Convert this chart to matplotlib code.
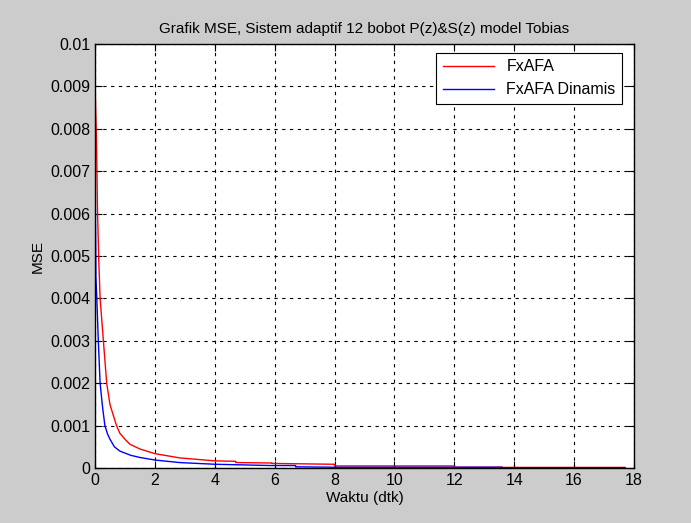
import numpy as np
import matplotlib.pyplot as plt
from matplotlib.ticker import FixedLocator

plt.rcParams['font.family'] = ['Liberation Sans', 'DejaVu Sans']

# values
t_fxafa = [0, 0.02, 0.05, 0.08, 0.12, 0.17, 0.28, 0.39, 0.5, 0.62, 0.72, 0.83, 1.0,
           1.17, 1.5, 2.0, 2.83, 4.0, 4.7, 4.7, 5.9, 5.9, 8.0, 8.0, 12.0, 12.0,
           13.6, 13.6, 17.7]
mse_fxafa = [0.0091, 0.0085, 0.0077, 0.0062, 0.0050, 0.0040, 0.0030, 0.0020, 0.0015,
             0.00122, 0.0010, 0.00082, 0.00068, 0.00056, 0.00045, 0.00034, 0.00024,
             0.00017, 0.00016, 0.00013, 0.00012, 0.00011, 0.00009, 0.00005, 0.00005,
             0.00002, 0.00002, 0.000015, 0.000015]

t_dinamis = [0, 0.005, 0.01, 0.03, 0.06, 0.11, 0.17, 0.25, 0.33, 0.42, 0.5, 0.65,
             0.83, 1.2, 1.5, 2.0, 2.83, 4.0, 5.9, 6.7, 6.7, 8.0, 13.6, 13.6, 17.7]
mse_dinamis = [0.0085, 0.0075, 0.0064, 0.0045, 0.0040, 0.0030, 0.0020, 0.00145, 0.0010,
               0.0008, 0.00068, 0.0005, 0.0004, 0.0003, 0.00025, 0.00019, 0.00013,
               0.00009, 0.00006, 0.00006, 0.00003, 0.00002, 0.00002, 0.00001, 0.00001]

x_ticks = [0, 2, 4, 6, 8, 10, 12, 14, 16, 18]
y_ticks = [0, 0.001, 0.002, 0.003, 0.004, 0.005, 0.006, 0.007, 0.008, 0.009, 0.01]
y_labels = ['0', '0.001', '0.002', '0.003', '0.004', '0.005', '0.006', '0.007',
            '0.008', '0.009', '0.01']

fig = plt.figure(figsize=(6.91, 5.23), dpi=100, facecolor='#cccccc')
ax = fig.add_axes([0.1375, 0.105, 0.78, 0.811])

ax.plot(t_fxafa, mse_fxafa, color='red', lw=1, label='FxAFA')
ax.plot(t_dinamis, mse_dinamis, color='blue', lw=1, label='FxAFA Dinamis')

ax.set_xlim(0, 18)
ax.set_ylim(0, 0.01)
ax.xaxis.set_major_locator(FixedLocator(x_ticks))
ax.set_yticks(y_ticks)
ax.set_yticklabels(y_labels)
ax.tick_params(direction='in', top=True, right=True, labelsize=11.5, length=5, width=0.8)
ax.grid(True, color='black', linestyle=(0, (3, 4)), lw=0.8)
for s in ax.spines.values():
    s.set_linewidth(1)

ax.set_xlabel('Waktu (dtk)', fontsize=11, labelpad=2)
ax.set_ylabel('MSE', fontsize=11, labelpad=4)
ax.set_title('Grafik MSE, Sistem adaptif 12 bobot P(z)&S(z) model Tobias',
             fontsize=11, pad=8)

leg = ax.legend(loc='upper right', fontsize=11.5, fancybox=False, framealpha=1,
                edgecolor='black', borderpad=0.4, handlelength=3.2,
                borderaxespad=0, bbox_to_anchor=(0.978, 0.979))
leg.get_frame().set_linewidth(0.8)

fig.savefig('out.png', dpi=100, facecolor=fig.get_facecolor())
